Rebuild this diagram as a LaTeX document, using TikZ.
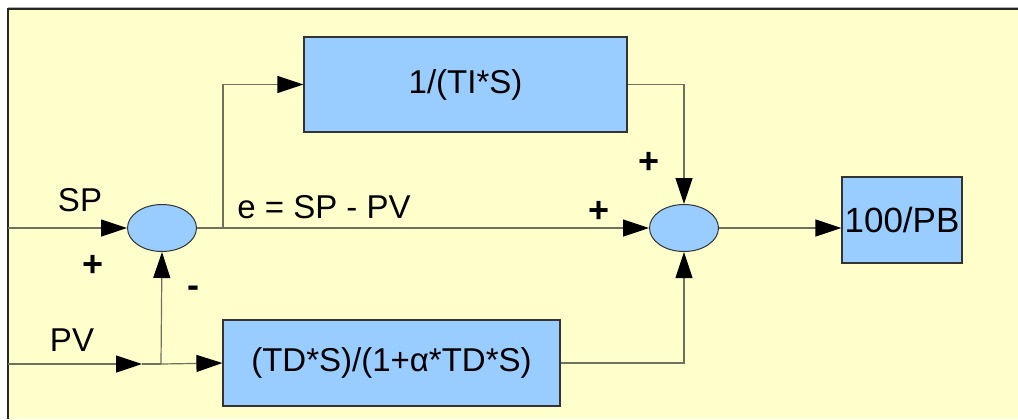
\documentclass[tikz,border=0pt]{standalone}
\usepackage{fontspec}
\setmainfont{Liberation Sans}
\usetikzlibrary{arrows.meta,shapes.geometric}

\definecolor{panel}{HTML}{FFFFCC}
\definecolor{bloqueazul}{HTML}{99CCFF}
\definecolor{cable}{HTML}{707060}

\begin{document}
\begin{tikzpicture}[x=0.5pt, y=-0.5pt,
    >={Triangle[length=13pt, width=8.5pt, color=black]},
    bloque/.style={draw=black!80, fill=bloqueazul, line width=0.6pt, inner sep=0pt,
      font=\fontsize{16.5}{20}\selectfont},
    suma/.style={ellipse, draw=black!80, fill=bloqueazul, line width=0.5pt,
      minimum width=34.5pt, minimum height=23.5pt, inner sep=0pt},
    cable/.style={draw=cable, line width=0.6pt},
    etiqueta/.style={font=\fontsize{16.5}{20}\selectfont},
    signo/.style={font=\bfseries\fontsize{18}{21}\selectfont}]

  % --- FONDO ---
  \useasboundingbox (0,0) rectangle (1018,419);
  \fill[white] (0,0) rectangle (1018,419);
  \fill[panel] (8,9) rectangle (1018,419);
  \draw[black!30, line width=0.5pt] (8,7.5) -- (1018,7.5);
  \draw[black!85, line width=0.7pt] (8,419) -- (8,9) -- (1018,9);

  % --- BLOQUES ---
  \node[bloque, minimum width=161.5pt, minimum height=47.5pt] (integral) at (465.5,84.5) {1/(TI*S)};
  \node[bloque, minimum width=168.5pt, minimum height=43pt] (derivada) at (391.5,363) {(TD*S)/(1+α*TD*S)};
  \node[bloque, minimum width=60pt, minimum height=43pt, font=\fontsize{17.5}{21}\selectfont] (ganancia) at (902,220) {100/PB};

  % --- SUMADORES ---
  \node[suma] (suma1) at (162,228) {};
  \node[suma] (suma2) at (684,228) {};

  % --- PUNTOS AUXILIARES ---
  \coordinate (spin) at (8,228);
  \coordinate (pvin) at (8,364);
  \coordinate (pvflecha) at (142,364);
  \coordinate (pvnodo) at (161,364);
  \coordinate (rama) at (223,228);

  % --- CONEXIONES ---
  \draw[cable, ->] (spin) -- (suma1.west);
  \draw[cable, ->] (pvin) -- (pvflecha);
  \draw[cable] (pvflecha) -- (pvnodo);
  \draw[cable, ->] (pvnodo) -- (derivada.west);
  \draw[cable, ->] (pvnodo) -- (suma1.south);
  \draw[cable, ->] (suma1.east) -- (suma2.west);
  \draw[cable, ->] (rama) |- (integral.west);
  \draw[cable, ->] (integral.east) -| (suma2.north);
  \draw[cable, ->] (derivada.east) -| (suma2.south);
  \draw[cable, ->] (suma2.east) -- (suma2.east -| ganancia.west);

  % --- ETIQUETAS ---
  \node[etiqueta] (sp) at (80,200) {SP};
  \node[etiqueta] (pv) at (72,340) {PV};
  \node[etiqueta] (error) at (324,207) {e = SP - PV};
  \node[signo] (mas1) at (93,266) {+};
  \node[signo] (menos1) at (193,292) {-};
  \node[signo] (mas2) at (599,212) {+};
  \node[signo] (mas3) at (649,163) {+};

\end{tikzpicture}
\end{document}
